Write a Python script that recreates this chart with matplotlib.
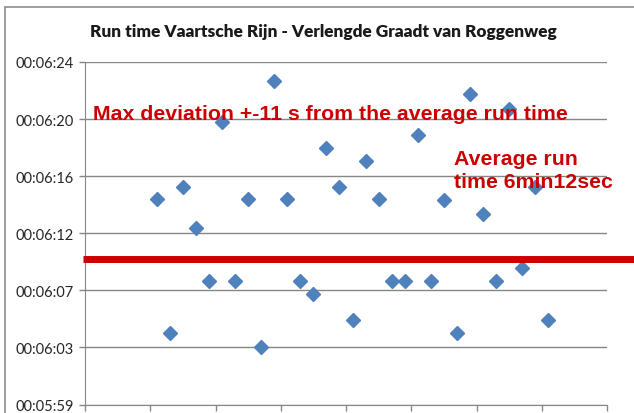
import numpy as np
import matplotlib
matplotlib.use("Agg")
import matplotlib.pyplot as plt
from matplotlib.patches import Rectangle

# run number and run time in seconds
runs = list(range(1, 32))
run_time_s = [374, 364.2, 374.9, 371.9, 368, 379.6, 368, 374, 363.2, 382.6,
              374, 368, 367.1, 377.7, 374.9, 365.2, 376.8, 374, 368, 368,
              378.7, 368, 373.9, 364.2, 381.7, 372.9, 368, 380.6, 369, 374.9,
              365.2]

# y axis ticks (seconds) and their labels
y_ticks = [359 + i * 25 / 6 for i in range(7)]
y_labels = ['00:05:59', '00:06:03', '00:06:07', '00:06:12',
            '00:06:16', '00:06:20', '00:06:24']

avg_line_s = 369.6  # drawn average line
title = 'Run time Vaartsche Rijn - Verlengde Graadt van Roggenweg'
note_max = 'Max deviation +-11 s from the average run time'
note_avg = 'Average run\ntime 6min12sec'

grid_col = '#868686'
red = '#CC0000'

fig = plt.figure(figsize=(6.34, 4.14), dpi=100)
ax = fig.add_axes([85 / 634, 1 - 405.5 / 414, (607 - 85) / 634, (405.5 - 63) / 414])

# outer chart border
fig.patches.append(Rectangle((5 / 634, -0.1), 1.2, 1 - 8 / 414 + 0.1,
                             transform=fig.transFigure, fill=False,
                             edgecolor='#8c8c8c', linewidth=1.2))

ax.plot(runs, run_time_s, linestyle='none', marker='D', markersize=7.5,
        color='#4F81BD', zorder=3)

ax.set_xlim(-4.5, 35.5)
ax.set_ylim(y_ticks[0], y_ticks[-1])
ax.set_xticks(np.arange(-4.5, 36, 5))
ax.set_xticklabels([])
ax.set_yticks(y_ticks)
ax.set_yticklabels(y_labels, family='Lato', fontsize=10.5, color='#262626')
ax.yaxis.grid(True, color=grid_col, linewidth=1)
ax.tick_params(axis='both', direction='out', length=4, color=grid_col, width=1)
ax.tick_params(axis='y', pad=4)
for side in ['top', 'right']:
    ax.spines[side].set_visible(False)
for side in ['left', 'bottom']:
    ax.spines[side].set_color(grid_col)

# average line, reaching past the plot area
ax.axhline(avg_line_s, xmin=-0.004, xmax=1.06, color=red, linewidth=5,
           solid_capstyle='butt', clip_on=False, zorder=4)

fig.text(323 / 634, 1 - 32 / 414, title, ha='center', va='center',
         family='Lato', fontweight='heavy', fontsize=12.4, color='#1a1a1a')
fig.text(93 / 634, 1 - 120 / 414, note_max, ha='left', va='baseline',
         family='Liberation Sans', fontweight='bold', fontsize=15.3, color=red)
fig.text(454 / 634, 1 - 188 / 414, note_avg, ha='left', va='baseline',
         family='Liberation Sans', fontweight='bold', fontsize=15.3, color=red,
         linespacing=1.25)

fig.savefig('out.png', dpi=100)
